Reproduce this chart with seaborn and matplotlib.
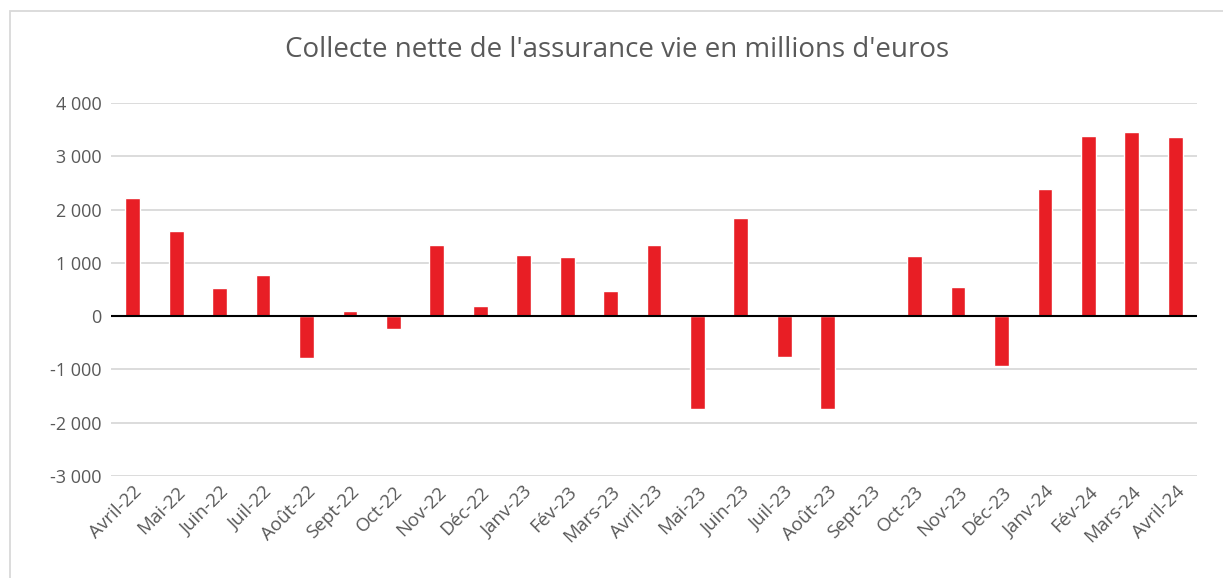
import matplotlib
matplotlib.use("Agg")
import matplotlib.pyplot as plt
import matplotlib.ticker as mticker
from matplotlib.patches import Rectangle
import seaborn as sns
import pandas as pd

# --------------------------------
# Data (millions d'euros)
# --------------------------------

months = [
    "Avril-22", "Mai-22", "Juin-22", "Juil-22", "Août-22", "Sept-22",
    "Oct-22", "Nov-22", "Déc-22", "Janv-23", "Fév-23", "Mars-23",
    "Avril-23", "Mai-23", "Juin-23", "Juil-23", "Août-23", "Sept-23",
    "Oct-23", "Nov-23", "Déc-23", "Janv-24", "Fév-24", "Mars-24", "Avril-24",
]
collecte = [
    2220, 1600, 520, 770, -790, 90,
    -250, 1330, 190, 1150, 1110, 470,
    1330, -1750, 1850, -760, -1740, 0,
    1130, 545, -940, 2390, 3390, 3460, 3360,
]
y_ticks = [-3000, -2000, -1000, 0, 1000, 2000, 3000, 4000]

df = pd.DataFrame({"Mois": months, "Collecte": collecte})

# --------------------------------
# Style
# --------------------------------

sns.set_style("white")
plt.rcParams["font.family"] = ["Open Sans", "DejaVu Sans"]
text_color = "#595959"

fig = plt.figure(figsize=(12.23, 5.78), dpi=100)
ax = fig.add_axes([111 / 1223, 1 - 476 / 578, (1197 - 111) / 1223, (476 - 103) / 578])

sns.barplot(data=df, x="Mois", y="Collecte", color="#E81E25",
            width=0.34, saturation=1, ax=ax, zorder=3)

ax.set_ylim(-3000, 4000)
ax.set_xlim(-0.5, len(months) - 0.5)
ax.set_yticks(y_ticks)
ax.yaxis.set_major_formatter(
    mticker.FuncFormatter(lambda v, p: f"{int(v):,}".replace(",", " "))
)
ax.grid(axis="y", color="#D9D9D9", linewidth=1.3, zorder=0)
ax.axhline(0, color="black", linewidth=1.5, zorder=4)

for s in ax.spines.values():
    s.set_visible(False)

ax.set_xlabel("")
ax.set_ylabel("")
ax.tick_params(axis="y", length=0, pad=7, labelsize=13, labelcolor=text_color)
ax.tick_params(axis="x", length=0, pad=5, labelsize=13.5, labelcolor=text_color)
plt.setp(ax.get_xticklabels(), rotation=45, ha="right", rotation_mode="anchor")

fig.suptitle("Collecte nette de l'assurance vie en millions d'euros",
             x=617 / 1223, y=1 - 50 / 578, va="center",
             fontsize=20, color=text_color)

# chart border
fig.patches.append(Rectangle((10 / 1223, -0.1), 1.2, 1 - 11 / 578 + 0.1,
                             transform=fig.transFigure, fill=False,
                             edgecolor="#D9D9D9", linewidth=1.3))

fig.savefig("out.png", dpi=100)
